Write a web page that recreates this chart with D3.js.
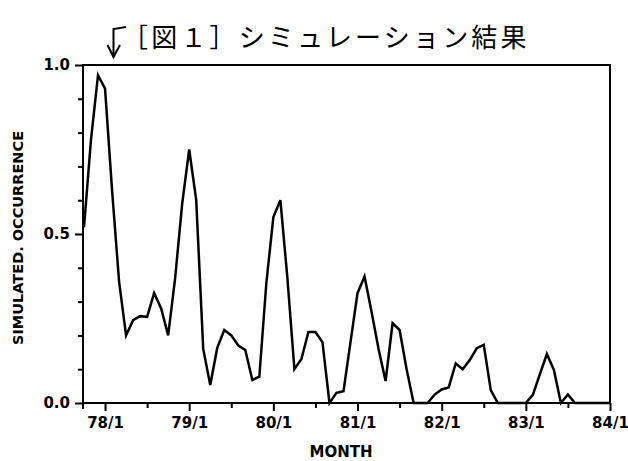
<!DOCTYPE html>
<meta charset="utf-8">
<script src="https://d3js.org/d3.v7.min.js"></script>
<style>
  body { margin: 0; background: #fff; }
  text { fill: #000; }
</style>
<div id="chart"></div>
<script>

// monthly values from 77/10 to 84/1
var values = [0.52, 0.78, 0.97, 0.93, 0.63, 0.36, 0.20, 0.245, 0.257, 0.255, 0.325, 0.28,
              0.20, 0.37, 0.59, 0.75, 0.60, 0.16, 0.053, 0.163, 0.216, 0.20, 0.17, 0.157,
              0.068, 0.078, 0.355, 0.55, 0.60, 0.37, 0.10, 0.13, 0.21, 0.21, 0.18, 0.0,
              0.03, 0.035, 0.18, 0.325, 0.374, 0.27, 0.16, 0.065, 0.236, 0.216, 0.10, 0.0,
              0.0, 0.0, 0.025, 0.04, 0.046, 0.117, 0.10, 0.127, 0.162, 0.172, 0.038, 0.0,
              0.0, 0.0, 0.0, 0.0, 0.024, 0.085, 0.145, 0.098, 0.0, 0.025, 0.0, 0.0,
              0.0, 0.0, 0.0, 0.0]
var yearTicks = [3, 15, 27, 39, 51, 63, 75]
var yearLabels = ["78/1", "79/1", "80/1", "81/1", "82/1", "83/1", "84/1"]
var halfTicks = [9, 21, 33, 45, 57, 69]
var yTicks = [0, 0.5, 1.0]
var yMinor = [0.1, 0.2, 0.3, 0.4, 0.6, 0.7, 0.8, 0.9]
var title = "［図１］シミュレーション結果"

var width = 628, height = 461
var mLeft = 83, mRight = 610, mTop = 65, mBottom = 403

var svg = d3.select("#chart").append("svg")
    .attr("width", width)
    .attr("height", height)

var x = d3.scaleLinear().domain([0, 75]).range([84, mRight])
var y = d3.scaleLinear().domain([0, 1]).range([mBottom, mTop])

// frame
svg.append("rect")
    .attr("x", mLeft).attr("y", mTop)
    .attr("width", mRight - mLeft).attr("height", mBottom - mTop)
    .attr("fill", "none").attr("stroke", "#000").attr("stroke-width", 2)

var tickFont = "'DejaVu Sans', sans-serif"

// y axis
var yAxis = svg.append("g")
    .attr("transform", "translate(" + mLeft + ",0)")
    .call(d3.axisLeft(y).tickValues(yTicks).tickSize(8).tickPadding(5)
      .tickFormat(d3.format(".1f")))
yAxis.select(".domain").remove()
yAxis.selectAll("line").attr("stroke-width", 2)
yAxis.selectAll("text")
    .style("font-family", tickFont).style("font-weight", "bold").style("font-size", "15px")

var yAxisMinor = svg.append("g")
    .attr("transform", "translate(" + mLeft + ",0)")
    .call(d3.axisLeft(y).tickValues(yMinor).tickSize(5).tickFormat(""))
yAxisMinor.select(".domain").remove()
yAxisMinor.selectAll("line").attr("stroke-width", 2)

// x axis
var xAxis = svg.append("g")
    .attr("transform", "translate(0," + mBottom + ")")
    .call(d3.axisBottom(x).tickValues(yearTicks).tickSize(8).tickPadding(6)
      .tickFormat(function(d, i){ return yearLabels[i] }))
xAxis.select(".domain").remove()
xAxis.selectAll("line").attr("stroke-width", 2)
xAxis.selectAll("text")
    .style("font-family", tickFont).style("font-weight", "bold").style("font-size", "15px")

var xAxisMinor = svg.append("g")
    .attr("transform", "translate(0," + mBottom + ")")
    .call(d3.axisBottom(x).tickValues(halfTicks).tickSize(5).tickFormat(""))
xAxisMinor.select(".domain").remove()
xAxisMinor.selectAll("line").attr("stroke-width", 2)

// corner stub
svg.append("line").attr("x1", mLeft).attr("x2", mLeft).attr("y1", mBottom).attr("y2", mBottom + 6)
    .attr("stroke", "#000").attr("stroke-width", 2)

// series
var line = d3.line()
    .x(function(d, i){ return x(i) })
    .y(function(d){ return y(d) })

svg.append("path")
    .datum(values)
    .attr("d", line)
    .attr("fill", "none")
    .attr("stroke", "#000")
    .attr("stroke-width", 2.5)
    .attr("stroke-linejoin", "miter")

// axis titles
svg.append("text")
    .attr("x", 341).attr("y", 457)
    .attr("text-anchor", "middle")
    .style("font-family", tickFont).style("font-weight", "bold").style("font-size", "15px")
    .text("MONTH")

svg.append("text")
    .attr("transform", "translate(23,238) rotate(-90)")
    .attr("text-anchor", "middle")
    .style("font-family", tickFont).style("font-weight", "bold").style("font-size", "14.5px")
    .text("SIMULATED. OCCURRENCE")

// title
svg.append("text")
    .attr("x", 122).attr("y", 47)
    .style("font-family", "'Noto Sans CJK JP', sans-serif")
    .style("font-size", "26px")
    .style("letter-spacing", "3.2px")
    .text(title)

// arrow
svg.append("path")
    .attr("d", "M126,27 L113.5,29 L113.5,57 M107.5,45 L113.5,57 L120,45")
    .attr("fill", "none").attr("stroke", "#000").attr("stroke-width", 2)

</script>
